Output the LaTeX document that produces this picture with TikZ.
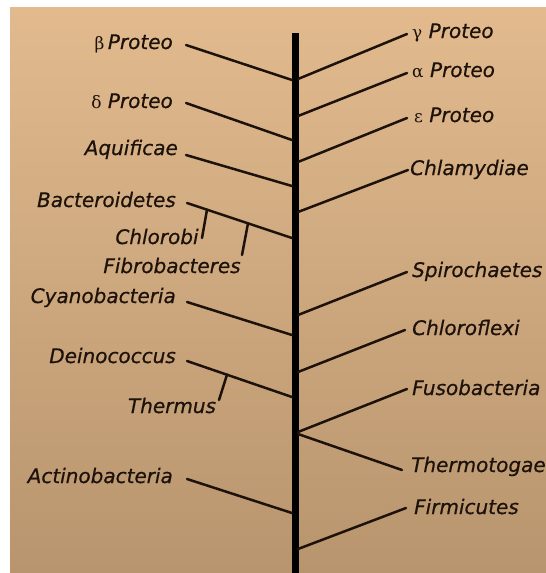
\documentclass[tikz,border=0pt]{standalone}
\usepackage{fontspec}
\setmainfont{DejaVu Sans}
\newfontfamily\lblfont{DejaVu Sans Oblique}[FakeBold=0.6]
\newfontfamily\grkfont{DejaVu Serif}
\definecolor{bgtop}{RGB}{226,186,142}
\definecolor{bgbot}{RGB}{184,149,110}
\definecolor{ink}{RGB}{28,18,10}
\begin{document}
\begin{tikzpicture}[x=1pt,y=-1pt,
  lbl/.style={inner sep=0pt,font=\fontsize{20}{22}\lblfont,text=ink,text height=14pt,text depth=4pt},
  lft/.style={lbl,anchor=east},
  rgt/.style={lbl,anchor=west},
  br/.style={draw=ink,line width=2.5pt,line cap=round},
  trunk/.style={draw=black,line width=7pt}]
\useasboundingbox (0,0) rectangle (546,573);
\fill[white] (0,0) rectangle (546,573);
\shade[top color=bgtop,bottom color=bgbot] (10,7) rectangle (546,573);
% trunk
\coordinate (ttop) at (295,33);
\coordinate (tbot) at (295,573);
\draw[trunk] (ttop) -- (tbot);
% left labels
\node[lft] (beta) at (173,44) {{\grkfont\fontsize{17}{20}\selectfont β}\,Proteo};
\node[lft] (delta) at (173,103) {{\grkfont\fontsize{17}{20}\selectfont δ} Proteo};
\node[lft] (aqui) at (178,150) {Aquificae};
\node[lft] (bact) at (176,202) {Bacteroidetes};
\node[lbl] (chlb) at (157,239) {Chlorobi};
\node[lbl] (fibr) at (172,268) {Fibrobacteres};
\node[lft] (cyan) at (176,298) {Cyanobacteria};
\node[lft] (dein) at (176,358) {Deinococcus};
\node[lbl] (therm) at (172,408) {Thermus};
\node[lft] (acti) at (173,478) {Actinobacteria};
% right labels
\node[rgt] (gamma) at (412,33) {{\grkfont\fontsize{17}{20}\selectfont γ} Proteo};
\node[rgt] (alpha) at (412,72) {{\grkfont\fontsize{17}{20}\selectfont α} Proteo};
\node[rgt] (eps) at (414,117) {{\grkfont\fontsize{17}{20}\selectfont ε} Proteo};
\node[rgt] (chla) at (410,170) {Chlamydiae};
\node[rgt] (spir) at (412,272) {Spirochaetes};
\node[rgt] (chlf) at (412,330) {Chloroflexi};
\node[rgt] (fuso) at (412,390) {Fusobacteria};
\node[rgt] (thmt) at (411,467) {Thermotogae};
\node[rgt] (firm) at (414,509) {Firmicutes};
% left branch ends
\coordinate (Lbeta) at (186,45);   \coordinate (Tbeta) at (292,80);
\coordinate (Ldelta) at (186,103); \coordinate (Tdelta) at (292,140);
\coordinate (Laqui) at (186,155);  \coordinate (Taqui) at (292,186);
\coordinate (Lbact) at (187,203);  \coordinate (Tbact) at (292,238);
\coordinate (Kchlb) at (207,209.7); \coordinate (Echlb) at (202,238);
\coordinate (Kfibr) at (248,223.3); \coordinate (Efibr) at (242,255);
\coordinate (Lcyan) at (187,302);  \coordinate (Tcyan) at (292,335);
\coordinate (Ldein) at (187,361);  \coordinate (Tdein) at (292,397);
\coordinate (Ktherm) at (227,374.7); \coordinate (Etherm) at (219,400);
\coordinate (Lacti) at (187,479);  \coordinate (Tacti) at (292,513);
% right branch ends
\coordinate (Tgamma) at (298,79);  \coordinate (Rgamma) at (407,34);
\coordinate (Talpha) at (298,116); \coordinate (Ralpha) at (407,73);
\coordinate (Teps) at (298,162);   \coordinate (Reps) at (407,118);
\coordinate (Tchla) at (298,212);  \coordinate (Rchla) at (408,170);
\coordinate (Tspir) at (298,315);  \coordinate (Rspir) at (407,272);
\coordinate (Tchlf) at (298,372);  \coordinate (Rchlf) at (405,330);
\coordinate (Tfuso) at (298,432);  \coordinate (Rfuso) at (407,389);
\coordinate (Tthmt) at (298,434);  \coordinate (Rthmt) at (402,470);
\coordinate (Tfirm) at (298,549);  \coordinate (Rfirm) at (406,508);
% branches
\draw[br] (Lbeta) -- (Tbeta);
\draw[br] (Ldelta) -- (Tdelta);
\draw[br] (Laqui) -- (Taqui);
\draw[br] (Lbact) -- (Tbact);
\draw[br] (Kchlb) -- (Echlb);
\draw[br] (Kfibr) -- (Efibr);
\draw[br] (Lcyan) -- (Tcyan);
\draw[br] (Ldein) -- (Tdein);
\draw[br] (Ktherm) -- (Etherm);
\draw[br] (Lacti) -- (Tacti);
\draw[br] (Tgamma) -- (Rgamma);
\draw[br] (Talpha) -- (Ralpha);
\draw[br] (Teps) -- (Reps);
\draw[br] (Tchla) -- (Rchla);
\draw[br] (Tspir) -- (Rspir);
\draw[br] (Tchlf) -- (Rchlf);
\draw[br] (Tfuso) -- (Rfuso);
\draw[br] (Tthmt) -- (Rthmt);
\draw[br] (Tfirm) -- (Rfirm);
\end{tikzpicture}
\end{document}
